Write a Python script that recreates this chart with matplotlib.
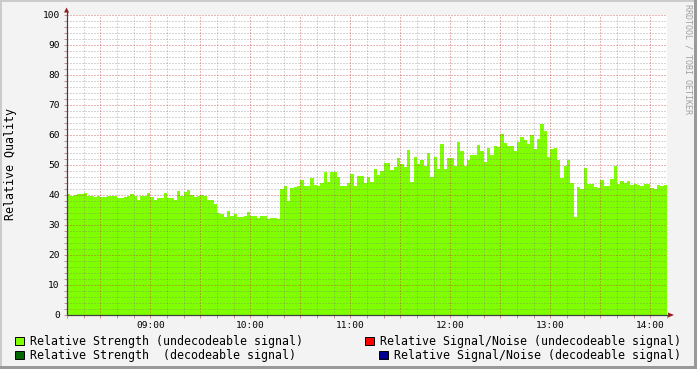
import numpy as np
import matplotlib
matplotlib.use("Agg")
import matplotlib.pyplot as plt
from matplotlib.patches import Rectangle, Polygon
from matplotlib.ticker import MultipleLocator, FuncFormatter

# ---------------- data ----------------
start_minute = 8 * 60 + 10          # 08:10
step_minutes = 2
strength_undecodeable = [
    40.2, 39.6, 40.0, 40.4, 40.4, 40.7, 39.8, 39.8, 39.2, 39.6,
    39.2, 39.4, 39.8, 39.8, 39.8, 38.9, 39.0, 39.4, 39.8, 40.4,
    39.6, 38.5, 39.8, 39.8, 40.7, 39.5, 38.3, 39.0, 39.0, 40.7,
    39.0, 39.0, 38.3, 41.5, 39.8, 41.1, 41.8, 40.0, 39.2, 39.8,
    40.1, 39.8, 38.5, 38.5, 37.0, 33.9, 33.6, 32.6, 34.8, 33.1,
    33.7, 32.6, 32.6, 33.0, 34.2, 33.1, 33.0, 32.3, 33.1, 33.0,
    32.0, 32.5, 32.3, 32.0, 42.1, 43.1, 38.1, 42.5, 42.8, 43.0,
    45.1, 43.0, 43.0, 45.6, 43.5, 43.0, 44.0, 47.6, 44.2, 47.6,
    47.6, 45.9, 43.1, 43.1, 44.0, 47.1, 42.9, 46.5, 46.5, 43.9,
    45.9, 44.2, 48.8, 46.8, 48.0, 50.6, 50.6, 48.2, 49.5, 52.4,
    50.4, 49.3, 55.1, 44.2, 52.8, 50.5, 51.8, 49.8, 54.0, 45.9,
    52.8, 48.7, 57.1, 48.8, 52.2, 52.2, 49.8, 57.6, 54.8, 49.8,
    51.8, 53.2, 53.2, 56.7, 54.8, 50.9, 55.6, 53.2, 56.5, 56.0,
    60.2, 57.3, 56.4, 56.5, 54.8, 57.6, 59.3, 58.5, 57.1, 59.9,
    55.4, 58.8, 63.8, 61.2, 52.8, 55.4, 55.6, 51.8, 45.6, 49.8,
    51.7, 43.9, 32.8, 42.8, 42.0, 49.0, 43.7, 43.7, 42.8, 42.4,
    45.0, 43.1, 43.1, 45.2, 49.8, 43.7, 44.8, 44.0, 44.8, 43.5,
    43.7, 43.4, 43.1, 43.7, 43.7, 42.2, 42.0, 43.4, 42.9, 43.5,
]
hour_labels = ["09:00", "10:00", "11:00", "12:00", "13:00", "14:00"]
legend_labels = [
    "Relative Strength (undecodeable signal)",
    "Relative Signal/Noise (undecodeable signal)",
    "Relative Strength  (decodeable signal)",
    "Relative Signal/Noise (decodeable signal)",
]
legend_colors = ["#80FF00", "#FF0000", "#006600", "#000090"]
y_label = "Relative Quality"
watermark = "RRDTOOL / TOBI OETIKER"

# ---------------- layout ----------------
W, H = 697, 369
MONO = "DejaVu Sans Mono"
fig = plt.figure(figsize=(W / 100, H / 100), dpi=100, facecolor="#F3F3F3")

L, R, T, B = 67, 667, 15, 315
ax = fig.add_axes([L / W, 1 - B / H, (R - L) / W, (B - T) / H])
ax.set_facecolor("white")

edges = start_minute + step_minutes * np.arange(len(strength_undecodeable) + 1)
ax.stairs(strength_undecodeable, edges, fill=True, color="#80FF00",
          linewidth=0, zorder=1)
ax.set_xlim(edges[0], edges[-1])
ax.set_ylim(0, 100)

hour_pos = {int(s[:2]) * 60 + int(s[3:]): s for s in hour_labels}
ax.xaxis.set_major_locator(MultipleLocator(30))
ax.xaxis.set_minor_locator(MultipleLocator(10))
ax.xaxis.set_major_formatter(FuncFormatter(lambda v, p: hour_pos.get(int(round(v)), "")))
ax.yaxis.set_major_locator(MultipleLocator(10))
ax.yaxis.set_minor_locator(MultipleLocator(2))
ax.yaxis.set_major_formatter(FuncFormatter(lambda v, p: f"{int(round(v))}"))

for s in ax.spines.values():
    s.set_visible(False)
ax.tick_params(which="both", direction="out", length=2.0, width=0.72,
               color="#C89090", labelsize=6.8, pad=3.2)
ax.tick_params(axis="x", which="major", pad=2.4)
for lab in ax.get_xticklabels() + ax.get_yticklabels():
    lab.set_fontfamily(MONO)
    lab.set_color("#000000")

# grid drawn above the area, as light dotted lines
dots = (0, (1, 2))
ax.set_axisbelow(False)
ax.grid(which="minor", color="#787878", alpha=0.6, linestyle=dots, linewidth=0.72, zorder=3)
ax.grid(which="major", color="#C03030", alpha=0.7, linestyle=dots, linewidth=0.72, zorder=3)

# ---------------- overlay (decorations, axis arrows, legend) ----------------
ov = fig.add_axes([0, 0, 1, 1], facecolor="none")
ov.set_xlim(0, W)
ov.set_ylim(H, 0)
ov.axis("off")

# border shading
ov.add_patch(Rectangle((0, 0), W, 2, color="#CBCBCB", lw=0))
ov.add_patch(Rectangle((0, 0), 2, H, color="#CBCBCB", lw=0))
ov.add_patch(Rectangle((0, H - 3), W, 3, color="#999999", lw=0))
ov.add_patch(Rectangle((W - 3, 0), 3, H, color="#999999", lw=0))

# axis lines with arrows
ov.plot([L - 0.5, L - 0.5], [B, 10], color="#404040", lw=0.9, solid_capstyle="butt")
ov.plot([L - 0.5, 669], [B, B], color="#404040", lw=0.9, solid_capstyle="butt")
ov.add_patch(Polygon([(L - 3, 12.5), (L + 2, 12.5), (L - 0.5, 7.5)], closed=True,
                     color="#9B1B1B", lw=0))
ov.add_patch(Polygon([(668, B - 2.5), (668, B + 2.5), (674, B)], closed=True,
                     color="#9B1B1B", lw=0))

# y label and watermark
ov.text(11, 164, y_label, rotation=90, ha="center", va="center",
        fontfamily=MONO, fontsize=8.35, color="#000000")
ov.text(688, 4, watermark, rotation=270, ha="center", va="top",
        fontfamily=MONO, fontsize=6.0, color="#A0A0A0")

# legend
leg_boxes = [(15, 341), (365, 341), (15, 355), (379, 355)]
for (bx, by), lab, col in zip(leg_boxes, legend_labels, legend_colors):
    ov.add_patch(Rectangle((bx, by - 4.5), 8.5, 8.5, facecolor=col,
                           edgecolor="#000000", lw=0.7))
    ov.text(bx + 15, by, lab, ha="left", va="center", fontfamily=MONO,
            fontsize=8.35, color="#000000")

fig.savefig("out.png", dpi=100, facecolor=fig.get_facecolor())
